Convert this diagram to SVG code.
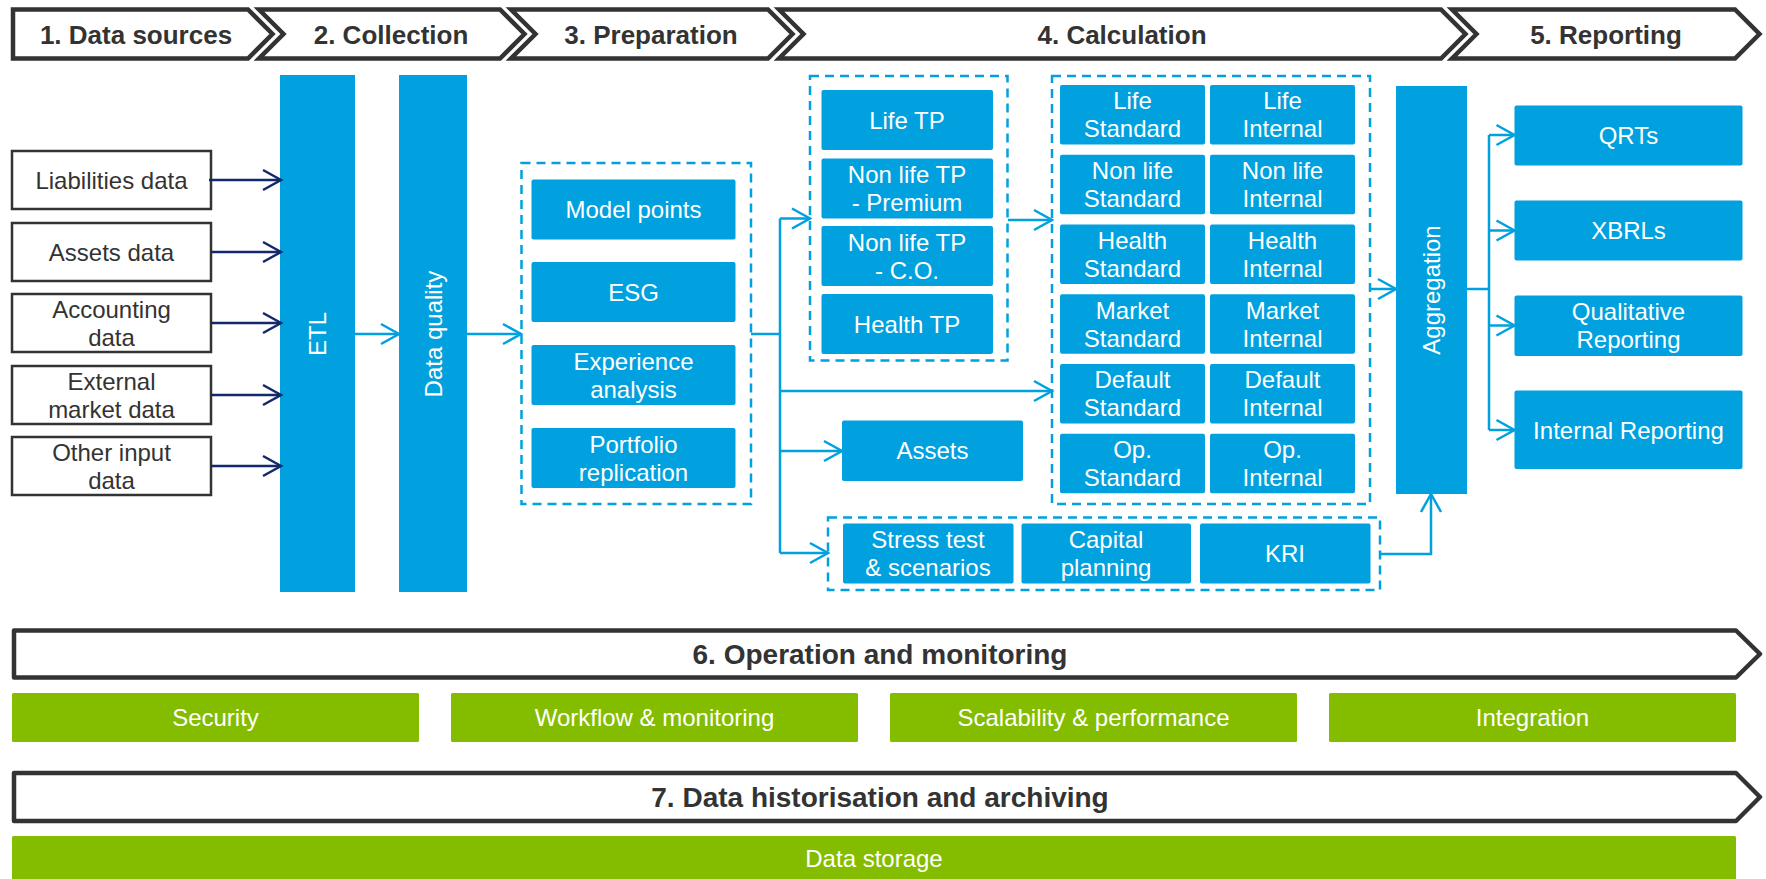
<svg xmlns="http://www.w3.org/2000/svg" width="1766" height="879" viewBox="0 0 1766 879">
<defs>
<style>
.hdr{fill:#fff;stroke:#333;stroke-width:4.5;stroke-linejoin:miter}
.band{fill:#fff;stroke:#333;stroke-width:4.5;stroke-linejoin:round}
.ht{font-family:'Liberation Sans',Arial,sans-serif;font-weight:bold;font-size:26px;fill:#333;text-anchor:middle}
.bt{font-family:'Liberation Sans',Arial,sans-serif;font-weight:bold;font-size:28px;fill:#333;text-anchor:middle}
.src{fill:#fff;stroke:#333;stroke-width:2.5}
.st{font-family:'Liberation Sans',Arial,sans-serif;font-size:24px;fill:#333;text-anchor:middle}
.nb{fill:#00a1de}
.wt{font-family:'Liberation Sans',Arial,sans-serif;font-size:24px;fill:#fff;text-anchor:middle}
.dash{fill:none;stroke:#00a1de;stroke-width:2.5;stroke-dasharray:9 6}
.gr{fill:#84bd00}
.cb{fill:none;stroke:#00a1de;stroke-width:2.5}
.cn{fill:none;stroke:#13296b;stroke-width:2.5}
</style>
<marker id="ab" markerUnits="userSpaceOnUse" markerWidth="22" markerHeight="24" refX="19" refY="11" orient="auto" overflow="visible">
<path d="M1,1 L19,11 L1,21" fill="none" stroke="#00a1de" stroke-width="2.5"/>
</marker>
<marker id="an" markerUnits="userSpaceOnUse" markerWidth="22" markerHeight="24" refX="19" refY="11" orient="auto" overflow="visible">
<path d="M1,1 L19,11 L1,21" fill="none" stroke="#13296b" stroke-width="2.5"/>
</marker>
</defs>
<rect x="0" y="0" width="1766" height="879" fill="#fff"/>

<g id="header">
<g id="h1"><path class="hdr" d="M13,9.5 H248 L272.5,34 L248,58.5 H13 Z"/><text class="ht" x="136" y="43.5">1. Data sources</text></g>
<g id="h2"><path class="hdr" d="M259,9.5 H500 L524.5,34 L500,58.5 H259 L283.5,34 Z"/><text class="ht" x="391" y="43.5">2. Collection</text></g>
<g id="h3"><path class="hdr" d="M511,9.5 H768 L792.5,34 L768,58.5 H511 L535.5,34 Z"/><text class="ht" x="651" y="43.5">3. Preparation</text></g>
<g id="h4"><path class="hdr" d="M779,9.5 H1441 L1465.5,34 L1441,58.5 H779 L803.5,34 Z"/><text class="ht" x="1122" y="43.5">4. Calculation</text></g>
<g id="h5"><path class="hdr" d="M1452,9.5 H1735 L1759.5,34 L1735,58.5 H1452 L1476.5,34 Z"/><text class="ht" x="1606" y="43.5">5. Reporting</text></g>
</g>

<g id="sources">
<g id="s1"><rect class="src" x="12" y="151" width="199" height="58"/><text class="st" x="111.5" y="189">Liabilities data</text></g>
<g id="s2"><rect class="src" x="12" y="223" width="199" height="58"/><text class="st" x="111.5" y="261">Assets data</text></g>
<g id="s3"><rect class="src" x="12" y="294" width="199" height="58"/><text class="st" x="111.5" y="317.5">Accounting</text><text class="st" x="111.5" y="345.5">data</text></g>
<g id="s4"><rect class="src" x="12" y="366" width="199" height="58"/><text class="st" x="111.5" y="389.5">External</text><text class="st" x="111.5" y="417.5">market data</text></g>
<g id="s5"><rect class="src" x="12" y="437" width="199" height="58"/><text class="st" x="111.5" y="460.5">Other input</text><text class="st" x="111.5" y="488.5">data</text></g>
</g>

<g id="etl"><rect class="nb" x="280" y="75" width="75" height="517"/><text class="wt" transform="translate(326,334) rotate(-90)">ETL</text></g>
<g id="dq"><rect class="nb" x="399" y="75" width="68" height="517"/><text class="wt" transform="translate(442,334) rotate(-90)">Data quality</text></g>

<g id="preparation">
<rect class="dash" x="521.5" y="163" width="229.5" height="341"/>
<g id="p1"><rect class="nb" x="531.5" y="179.5" width="204" height="60" rx="2"/><text class="wt" x="633.5" y="218">Model points</text></g>
<g id="p2"><rect class="nb" x="531.5" y="262" width="204" height="60" rx="2"/><text class="wt" x="633.5" y="300.5">ESG</text></g>
<g id="p3"><rect class="nb" x="531.5" y="345" width="204" height="60" rx="2"/><text class="wt" x="633.5" y="369.5">Experience</text><text class="wt" x="633.5" y="397.5">analysis</text></g>
<g id="p4"><rect class="nb" x="531.5" y="428" width="204" height="60" rx="2"/><text class="wt" x="633.5" y="452.5">Portfolio</text><text class="wt" x="633.5" y="480.5">replication</text></g>
</g>

<g id="tp">
<rect class="dash" x="810" y="76" width="197.5" height="284.5"/>
<g id="tp1"><rect class="nb" x="821.5" y="90" width="171.5" height="60" rx="2"/><text class="wt" x="907" y="128.5">Life TP</text></g>
<g id="tp2"><rect class="nb" x="821.5" y="158.5" width="171.5" height="60" rx="2"/><text class="wt" x="907" y="183">Non life TP</text><text class="wt" x="907" y="211">- Premium</text></g>
<g id="tp3"><rect class="nb" x="821.5" y="226" width="171.5" height="60" rx="2"/><text class="wt" x="907" y="250.5">Non life TP</text><text class="wt" x="907" y="278.5">- C.O.</text></g>
<g id="tp4"><rect class="nb" x="821.5" y="294" width="171.5" height="60" rx="2"/><text class="wt" x="907" y="332.5">Health TP</text></g>
</g>

<g id="assets"><rect class="nb" x="842" y="420.5" width="181" height="60.5" rx="2"/><text class="wt" x="932.5" y="459">Assets</text></g>

<g id="grid">
<rect class="dash" x="1052" y="76" width="318" height="428"/>
<g id="g1"><rect class="nb" x="1060" y="85" width="145" height="59.5" rx="2"/><text class="wt" x="1132.5" y="109">Life</text><text class="wt" x="1132.5" y="137">Standard</text>
<rect class="nb" x="1210" y="85" width="145" height="59.5" rx="2"/><text class="wt" x="1282.5" y="109">Life</text><text class="wt" x="1282.5" y="137">Internal</text></g>
<g id="g2"><rect class="nb" x="1060" y="154.8" width="145" height="59.5" rx="2"/><text class="wt" x="1132.5" y="179">Non life</text><text class="wt" x="1132.5" y="207">Standard</text>
<rect class="nb" x="1210" y="154.8" width="145" height="59.5" rx="2"/><text class="wt" x="1282.5" y="179">Non life</text><text class="wt" x="1282.5" y="207">Internal</text></g>
<g id="g3"><rect class="nb" x="1060" y="224.5" width="145" height="59.5" rx="2"/><text class="wt" x="1132.5" y="248.5">Health</text><text class="wt" x="1132.5" y="276.5">Standard</text>
<rect class="nb" x="1210" y="224.5" width="145" height="59.5" rx="2"/><text class="wt" x="1282.5" y="248.5">Health</text><text class="wt" x="1282.5" y="276.5">Internal</text></g>
<g id="g4"><rect class="nb" x="1060" y="294.3" width="145" height="59.5" rx="2"/><text class="wt" x="1132.5" y="318.5">Market</text><text class="wt" x="1132.5" y="346.5">Standard</text>
<rect class="nb" x="1210" y="294.3" width="145" height="59.5" rx="2"/><text class="wt" x="1282.5" y="318.5">Market</text><text class="wt" x="1282.5" y="346.5">Internal</text></g>
<g id="g5"><rect class="nb" x="1060" y="364" width="145" height="59.5" rx="2"/><text class="wt" x="1132.5" y="388">Default</text><text class="wt" x="1132.5" y="416">Standard</text>
<rect class="nb" x="1210" y="364" width="145" height="59.5" rx="2"/><text class="wt" x="1282.5" y="388">Default</text><text class="wt" x="1282.5" y="416">Internal</text></g>
<g id="g6"><rect class="nb" x="1060" y="433.8" width="145" height="59.5" rx="2"/><text class="wt" x="1132.5" y="458">Op.</text><text class="wt" x="1132.5" y="486">Standard</text>
<rect class="nb" x="1210" y="433.8" width="145" height="59.5" rx="2"/><text class="wt" x="1282.5" y="458">Op.</text><text class="wt" x="1282.5" y="486">Internal</text></g>
</g>

<g id="stress">
<rect class="dash" x="828" y="517.5" width="552" height="72.5"/>
<g id="st1"><rect class="nb" x="843" y="523.5" width="170.5" height="60" rx="2"/><text class="wt" x="928" y="548">Stress test</text><text class="wt" x="928" y="576">&amp; scenarios</text></g>
<g id="st2"><rect class="nb" x="1021.5" y="523.5" width="169.5" height="60" rx="2"/><text class="wt" x="1106" y="548">Capital</text><text class="wt" x="1106" y="576">planning</text></g>
<g id="st3"><rect class="nb" x="1200" y="523.5" width="170.5" height="60" rx="2"/><text class="wt" x="1285" y="562">KRI</text></g>
</g>

<g id="aggregation"><rect class="nb" x="1396" y="86" width="71" height="408"/><text class="wt" transform="translate(1439.5,290) rotate(-90)">Aggregation</text></g>

<g id="reporting">
<g id="r1"><rect class="nb" x="1514.5" y="105.5" width="228" height="60" rx="2"/><text class="wt" x="1628.5" y="144">QRTs</text></g>
<g id="r2"><rect class="nb" x="1514.5" y="200.5" width="228" height="60" rx="2"/><text class="wt" x="1628.5" y="239">XBRLs</text></g>
<g id="r3"><rect class="nb" x="1514.5" y="295.5" width="228" height="60.5" rx="2"/><text class="wt" x="1628.5" y="320">Qualitative</text><text class="wt" x="1628.5" y="348">Reporting</text></g>
<g id="r4"><rect class="nb" x="1514.5" y="390.5" width="228" height="78.5" rx="2"/><text class="wt" x="1628.5" y="438.5">Internal Reporting</text></g>
</g>

<g id="connectors">
<line class="cn" x1="209" y1="180" x2="281" y2="180" marker-end="url(#an)"/>
<line class="cn" x1="211" y1="252" x2="281" y2="252" marker-end="url(#an)"/>
<line class="cn" x1="211" y1="323" x2="281" y2="323" marker-end="url(#an)"/>
<line class="cn" x1="211" y1="395" x2="281" y2="395" marker-end="url(#an)"/>
<line class="cn" x1="211" y1="466" x2="281" y2="466" marker-end="url(#an)"/>
<line class="cb" x1="355" y1="334" x2="399" y2="334" marker-end="url(#ab)"/>
<line class="cb" x1="467" y1="334" x2="521" y2="334" marker-end="url(#ab)"/>
<polyline class="cb" points="751,334 780,334"/>
<line class="cb" x1="780" y1="218.5" x2="780" y2="553"/>
<line class="cb" x1="780" y1="218.5" x2="810" y2="218.5" marker-end="url(#ab)"/>
<line class="cb" x1="780" y1="391" x2="1052" y2="391" marker-end="url(#ab)"/>
<line class="cb" x1="780" y1="451" x2="842" y2="451" marker-end="url(#ab)"/>
<line class="cb" x1="780" y1="553" x2="828" y2="553" marker-end="url(#ab)"/>
<line class="cb" x1="1008" y1="220" x2="1052" y2="220" marker-end="url(#ab)"/>
<line class="cb" x1="1370" y1="289" x2="1396" y2="289" marker-end="url(#ab)"/>
<polyline class="cb" points="1380,554 1431,554 1431,494" marker-end="url(#ab)"/>
<polyline class="cb" points="1467,289 1489,289"/>
<line class="cb" x1="1489" y1="135" x2="1489" y2="430"/>
<line class="cb" x1="1489" y1="135" x2="1514.5" y2="135" marker-end="url(#ab)"/>
<line class="cb" x1="1489" y1="230.5" x2="1514.5" y2="230.5" marker-end="url(#ab)"/>
<line class="cb" x1="1489" y1="325.5" x2="1514.5" y2="325.5" marker-end="url(#ab)"/>
<line class="cb" x1="1489" y1="430" x2="1514.5" y2="430" marker-end="url(#ab)"/>
</g>

<g id="operation">
<path class="band" d="M14,630.5 H1736 L1760,654 L1736,677.5 H14 Z"/>
<text class="bt" x="880" y="664">6. Operation and monitoring</text>
<g id="o1"><rect class="gr" x="12" y="693" width="407" height="49" rx="1.5"/><text class="wt" x="215.5" y="726">Security</text></g>
<g id="o2"><rect class="gr" x="451" y="693" width="407" height="49" rx="1.5"/><text class="wt" x="654.5" y="726">Workflow &amp; monitoring</text></g>
<g id="o3"><rect class="gr" x="890" y="693" width="407" height="49" rx="1.5"/><text class="wt" x="1093.5" y="726">Scalability &amp; performance</text></g>
<g id="o4"><rect class="gr" x="1329" y="693" width="407" height="49" rx="1.5"/><text class="wt" x="1532.5" y="726">Integration</text></g>
</g>

<g id="archiving">
<path class="band" d="M14,773 H1736 L1760,797 L1736,821 H14 Z"/>
<text class="bt" x="880" y="807">7. Data historisation and archiving</text>
<g id="ds"><rect class="gr" x="12" y="836" width="1724" height="50" rx="1.5"/><text class="wt" x="874" y="867">Data storage</text></g>
</g>
</svg>
